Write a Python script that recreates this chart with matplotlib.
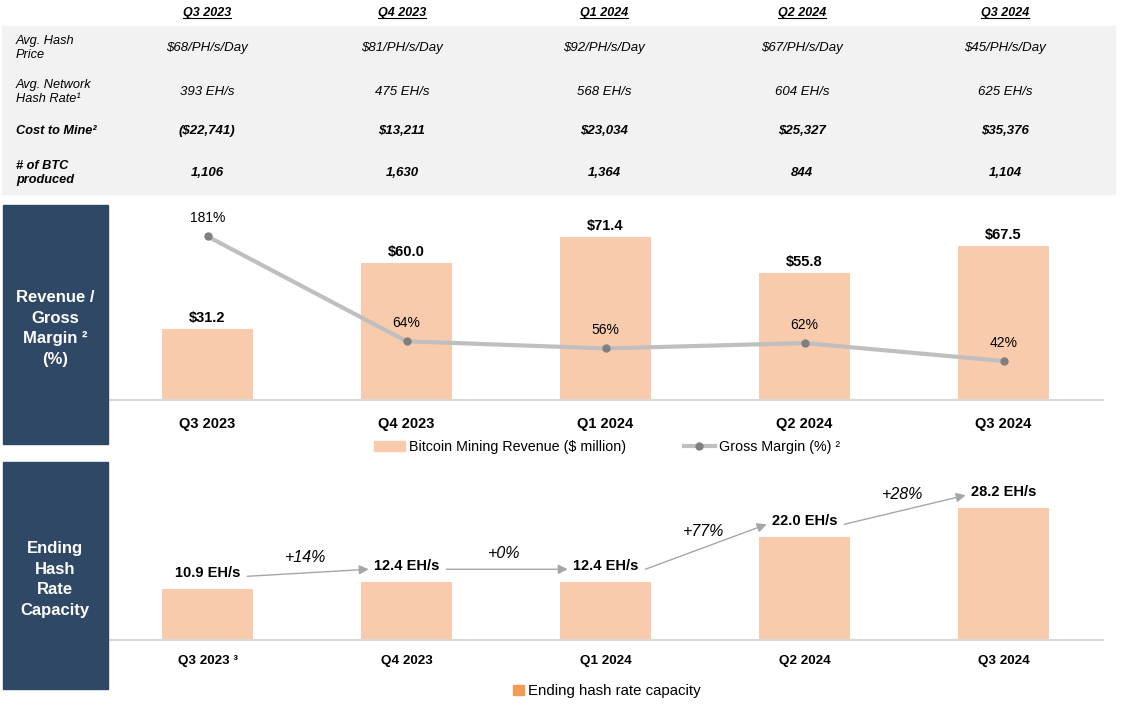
import matplotlib
matplotlib.use("Agg")
import matplotlib.pyplot as plt
from matplotlib.patches import Rectangle
from matplotlib.lines import Line2D

plt.rcParams['font.family'] = ['Liberation Sans', 'DejaVu Sans']

# data
quarters = ["Q3 2023", "Q4 2023", "Q1 2024", "Q2 2024", "Q3 2024"]
hash_price = ["$68/PH/s/Day", "$81/PH/s/Day", "$92/PH/s/Day", "$67/PH/s/Day", "$45/PH/s/Day"]
network_rate = ["393 EH/s", "475 EH/s", "568 EH/s", "604 EH/s", "625 EH/s"]
cost_to_mine = ["($22,741)", "$13,211", "$23,034", "$25,327", "$35,376"]
btc_produced = ["1,106", "1,630", "1,364", "844", "1,104"]

revenue = [31.2, 60.0, 71.4, 55.8, 67.5]          # $ million
gross_margin = [181, 64, 56, 62, 42]              # %
hash_capacity = [10.9, 12.4, 12.4, 22.0, 28.2]    # EH/s
growth = ["+14%", "+0%", "+77%", "+28%"]
hash_ticks = ["Q3 2023 ³", "Q4 2023", "Q1 2024", "Q2 2024", "Q3 2024"]

W, H = 1123, 708
NAVY = "#2F4865"
PEACH = "#F8CBAD"
fig = plt.figure(figsize=(W / 100, H / 100), dpi=100)


def fx(px):
    return px / W


def fy(py):
    return 1 - py / H


def axes_px(x0, y0, x1, y1):
    return fig.add_axes([fx(x0), fy(y1), fx(x1 - x0), (y1 - y0) / H])


# ---- table on top ----
fig.patches.append(Rectangle((fx(2), fy(194)), fx(1113), (194 - 26) / H,
                             transform=fig.transFigure, color="#F2F2F2", zorder=0))
col_x = [207, 402, 604, 802, 1005]
headers = []
for cx, q in zip(col_x, quarters):
    t = fig.text(fx(cx), fy(13), q, ha="center", va="center", fontsize=9,
                 fontweight="bold", style="italic")
    headers.append(t)

rows = [
    ("Avg. Hash\nPrice", hash_price, 48, "normal"),
    ("Avg. Network\nHash Rate¹", network_rate, 92, "normal"),
    ("Cost to Mine²", cost_to_mine, 131, "bold"),
    ("# of BTC\nproduced", btc_produced, 173, "bold"),
]
for label, vals, ry, wt in rows:
    fig.text(fx(16), fy(ry), label, ha="left", va="center", fontsize=9.2,
             style="italic", fontweight=wt, linespacing=1.3)
    for cx, v in zip(col_x, vals):
        fig.text(fx(cx), fy(ry), v, ha="center", va="center", fontsize=9.5,
                 style="italic", fontweight=wt)

# ---- side boxes ----
for (y0, y1, txt) in [(205, 444, "Revenue /\nGross\nMargin ²\n(%)"),
                      (462, 689, "Ending\nHash\nRate\nCapacity")]:
    fig.patches.append(Rectangle((fx(3), fy(y1)), fx(105), (y1 - y0) / H,
                                 transform=fig.transFigure, color=NAVY, zorder=0))
    fig.text(fx(55), fy((y0 + y1) / 2 + 4), txt, ha="center", va="center", color="white",
             fontsize=12, fontweight="bold", linespacing=1.45)

x = list(range(len(quarters)))

# ---- revenue / gross margin ----
ax1 = axes_px(108, 205, 1103, 400)
ax1.bar(x, revenue, width=0.46, color=PEACH, zorder=2)
for i, v in enumerate(revenue):
    ax1.annotate(f"${v:.1f}", (i, v), xytext=(0, 3), textcoords="offset points",
                 ha="center", va="bottom", fontsize=10.5, fontweight="bold")
ax1.set_xlim(-0.5, 4.5)
ax1.set_ylim(0, 85.5)
ax1.set_xticks(x)
ax1.set_xticklabels(quarters, fontsize=10.5, fontweight="bold")
ax1.tick_params(axis="x", length=0, pad=12)
ax1.set_yticks([])
for s in ["top", "right", "left"]:
    ax1.spines[s].set_visible(False)
ax1.spines["bottom"].set_color("#D9D9D9")
ax1.spines["bottom"].set_linewidth(1.5)
ax1.patch.set_alpha(0)

ax1b = ax1.twinx()
ax1b.plot(x, gross_margin, color="#BFBFBF", lw=3, marker="o", markersize=5,
          markerfacecolor="#7F7F7F", markeredgecolor="#7F7F7F", zorder=3)
for i, v in enumerate(gross_margin):
    ax1b.annotate(f"{v}%", (i, v), xytext=(0, 8), textcoords="offset points",
                  ha="center", va="bottom", fontsize=10)
ax1b.set_ylim(-1.5, 216)
ax1b.set_yticks([])
for s in ax1b.spines.values():
    s.set_visible(False)

h1 = Rectangle((0, 0), 1, 1, color=PEACH)
h2 = Line2D([], [], color="#BFBFBF", lw=3, marker="o", markersize=5,
            markerfacecolor="#7F7F7F", markeredgecolor="#7F7F7F")
fig.legend([h1, h2], ["Bitcoin Mining Revenue ($ million)", "Gross Margin (%) ²"],
           loc="center", bbox_to_anchor=(fx(607), fy(447)), ncol=2, frameon=False,
           fontsize=10.3, handlelength=2.2, handleheight=0.75, columnspacing=4.0,
           handletextpad=0.3)

# ---- ending hash rate capacity ----
ax2 = axes_px(108, 462, 1103, 640)
ax2.bar(x, hash_capacity, width=0.46, color=PEACH, zorder=2)
lab_off = 3.4
for i, v in enumerate(hash_capacity):
    ax2.text(i, v + lab_off, f"{v:.1f} EH/s", ha="center", va="center",
             fontsize=10.5, fontweight="bold")
for i, g in enumerate(growth):
    y_s = hash_capacity[i] + lab_off - 0.7
    y_e = hash_capacity[i + 1] + lab_off - 0.7
    x_s, x_e = i + 0.2, i + 1 - 0.19
    ax2.annotate("", xy=(x_e, y_e), xytext=(x_s, y_s),
                 arrowprops=dict(arrowstyle="-|>", color="#A6A6A6", lw=1,
                                 mutation_scale=14, shrinkA=0, shrinkB=0))
    ax2.annotate(g, ((x_s + x_e) / 2, (y_s + y_e) / 2), xytext=(-2, 11),
                 textcoords="offset points", ha="center", va="center",
                 fontsize=11.5, style="italic")
ax2.set_xlim(-0.5, 4.5)
ax2.set_ylim(0, 38)
ax2.set_xticks(x)
ax2.set_xticklabels(hash_ticks, fontsize=9.7, fontweight="bold")
ax2.tick_params(axis="x", length=0, pad=11)
ax2.set_yticks([])
for s in ["top", "right", "left"]:
    ax2.spines[s].set_visible(False)
ax2.spines["bottom"].set_color("#D9D9D9")
ax2.spines["bottom"].set_linewidth(1.5)

h3 = Rectangle((0, 0), 1, 1, color="#F29B56")
fig.legend([h3], ["Ending hash rate capacity"], loc="center",
           bbox_to_anchor=(fx(607), fy(691)), frameon=False, fontsize=10.8,
           handlelength=0.7, handleheight=0.7, handletextpad=0.3)

# underline the table headers
fig.canvas.draw()
r = fig.canvas.get_renderer()
for t in headers:
    bb = t.get_window_extent(r).transformed(fig.transFigure.inverted())
    fig.lines.append(Line2D([bb.x0, bb.x1], [bb.y0 + 0.001, bb.y0 + 0.001],
                            transform=fig.transFigure, color="black", lw=0.8))

fig.savefig("out.png", dpi=100)
